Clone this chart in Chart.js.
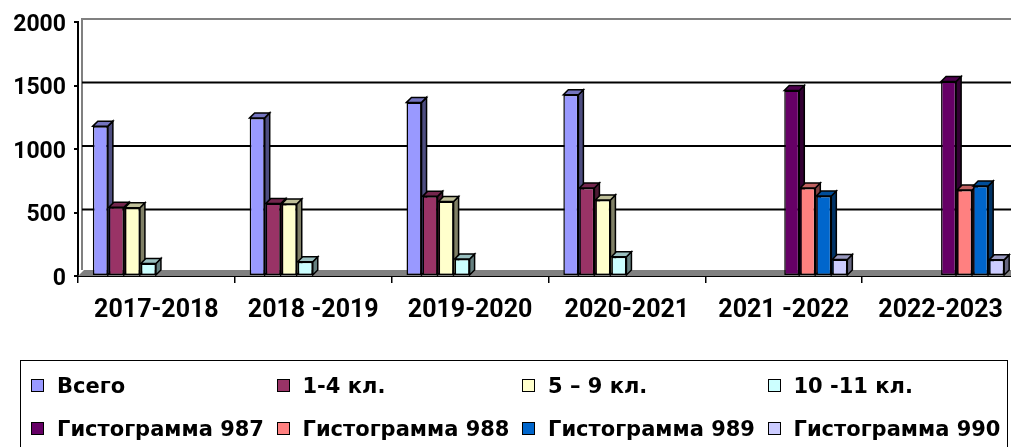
<!DOCTYPE html>
<html>
<head>
<meta charset="utf-8">
<script src="https://cdn.jsdelivr.net/npm/chart.js@4.4.1/dist/chart.umd.min.js"></script>
<style>
html,body{margin:0;padding:0;background:#fff;overflow:hidden;width:1011px;height:447px;}
#wrap{position:absolute;left:0;top:0;width:1030px;height:447px;}
#legend{position:absolute;left:20px;top:360px;width:988px;height:110px;border:1.5px solid #000;box-sizing:border-box;font-family:"DejaVu Sans",sans-serif;font-weight:bold;font-size:21px;color:#000;}
.item{position:absolute;height:24px;line-height:24px;white-space:nowrap;}
.box{position:absolute;left:0;top:5px;width:11px;height:11px;border:1.5px solid #000;}
.txt{position:absolute;left:26px;top:0;}
</style>
</head>
<body>
<div id="wrap"><canvas id="c" width="1030" height="447"></canvas></div>
<div id="legend"></div>
<script>
const categories = ['2017-2018', '2018 -2019', '2019-2020', '2020-2021', '2021 -2022', '2022-2023'];
const seriesNames = ['Всего', '1-4 кл.', '5 – 9 кл.', '10 -11 кл.', 'Гистограмма 987', 'Гистограмма 988', 'Гистограмма 989', 'Гистограмма 990'];
const vsego   = [1180, 1245, 1367, 1427, null, null];
const kl1_4   = [541, 570, 627, 693, null, null];
const kl5_9   = [537, 567, 586, 599, null, null];
const kl10_11 = [99, 112, 133, 151, null, null];
const g987    = [null, null, null, null, 1461, 1531];
const g988    = [null, null, null, null, 693, 677];
const g989    = [null, null, null, null, 630, 709];
const g990    = [null, null, null, null, 130, 127];
const yTicks  = [0, 500, 1000, 1500, 2000];

const seriesValues = [vsego, kl1_4, kl5_9, kl10_11, g987, g988, g989, g990];
const frontColors = ['#9999FF', '#993366', '#FFFFCC', '#CCFFFF', '#660066', '#FF8080', '#0066CC', '#CCCCFF'];

function shade(hex, f) {
  const n = parseInt(hex.slice(1), 16);
  const r = Math.round(((n >> 16) & 255) * f), g = Math.round(((n >> 8) & 255) * f), b = Math.round((n & 255) * f);
  return 'rgb(' + r + ',' + g + ',' + b + ')';
}

const datasets = seriesNames.map((name, i) => ({
  label: name,
  data: seriesValues[i],
  backgroundColor: frontColors[i],
  borderColor: '#000',
  borderWidth: 1.5,
  borderSkipped: false,
  categoryPercentage: 0.817,
  barPercentage: 0.94
}));

const D = 5; // depth of the 3D extrusion
const WALL = 3; // back wall offset

const plot3d = {
  id: 'plot3d',
  beforeDatasetsDraw(chart) {
    const ctx = chart.ctx;
    const a = chart.chartArea;
    const ys = chart.scales.y;
    ctx.save();
    // floor
    ctx.fillStyle = '#808080';
    ctx.beginPath();
    ctx.moveTo(a.left, a.bottom);
    ctx.lineTo(a.left + 6, a.bottom - 6);
    ctx.lineTo(a.right + 20, a.bottom - 6);
    ctx.lineTo(a.right + 20, a.bottom);
    ctx.closePath();
    ctx.fill();
    // back wall lines
    ctx.strokeStyle = '#808080';
    ctx.lineWidth = 2;
    const topY = ys.getPixelForValue(yTicks[yTicks.length - 1]) - WALL;
    ctx.beginPath();
    ctx.moveTo(a.left + WALL + 1, a.bottom - 6);
    ctx.lineTo(a.left + WALL + 1, topY);
    ctx.lineTo(a.right + 20, topY);
    ctx.stroke();
    // gridlines
    ctx.strokeStyle = '#000';
    ctx.lineWidth = 2;
    yTicks.slice(1, -1).forEach(v => {
      const yy = ys.getPixelForValue(v) - WALL;
      ctx.beginPath();
      ctx.moveTo(a.left + WALL + 1, yy);
      ctx.lineTo(a.right + 20, yy);
      ctx.stroke();
    });
    // 3D faces of bars
    ctx.lineWidth = 1.5;
    ctx.strokeStyle = '#000';
    ctx.lineJoin = 'miter';
    chart.data.datasets.forEach((ds, i) => {
      const meta = chart.getDatasetMeta(i);
      meta.data.forEach((el, j) => {
        if (ds.data[j] === null || ds.data[j] === undefined) return;
        const p = el.getProps(['x', 'y', 'base', 'width'], true);
        const l = p.x - p.width / 2, r = p.x + p.width / 2, t = p.y, b = p.base;
        ctx.fillStyle = shade(frontColors[i], 0.5);
        ctx.beginPath();
        ctx.moveTo(r, t); ctx.lineTo(r + D, t - D); ctx.lineTo(r + D, b - D); ctx.lineTo(r, b); ctx.closePath();
        ctx.fill(); ctx.stroke();
        ctx.fillStyle = shade(frontColors[i], 0.75);
        ctx.beginPath();
        ctx.moveTo(l, t); ctx.lineTo(l + D, t - D); ctx.lineTo(r + D, t - D); ctx.lineTo(r, t); ctx.closePath();
        ctx.fill(); ctx.stroke();
      });
    });
    ctx.restore();
  }
};

const chart = new Chart(document.getElementById('c'), {
  type: 'bar',
  data: { labels: categories, datasets },
  options: {
    responsive: false,
    animation: false,
    devicePixelRatio: 1,
    layout: { padding: { left: 0, right: 11, top: 22, bottom: 111 } },
    plugins: { legend: { display: false }, tooltip: { enabled: false } },
    scales: {
      x: {
        grid: { drawOnChartArea: false, drawTicks: true, tickLength: 7, color: '#000', lineWidth: 1.5, offset: true },
        border: { display: true, color: '#000', width: 2 },
        ticks: { color: '#000', font: { family: 'Roboto', weight: 'bold', size: 25 }, padding: 13, maxRotation: 0, autoSkip: false },
        afterFit(scale) { scale.height = 60; }
      },
      y: {
        min: 0, max: 2000,
        afterBuildTicks(scale) { scale.ticks = yTicks.map(v => ({ value: v })); },
        grid: { drawOnChartArea: false, drawTicks: true, tickLength: 4, color: '#000', lineWidth: 2 },
        border: { display: true, color: '#000', width: 2 },
        ticks: { color: '#000', font: { family: 'Roboto', weight: 'bold', size: 23 }, padding: 8, labelOffset: 3, callback: v => String(v) },
        afterFit(scale) { scale.width = 78; }
      }
    }
  },
  plugins: [plot3d]
});

// legend (HTML, built from the series names and colours)
const leg = document.getElementById('legend');
seriesNames.forEach((name, i) => {
  const col = i % 4, row = Math.floor(i / 4);
  const it = document.createElement('div');
  it.className = 'item';
  it.style.left = (10 + col * 245.5) + 'px';
  it.style.top = (13 + row * 43) + 'px';
  const bx = document.createElement('div');
  bx.className = 'box';
  bx.style.background = frontColors[i];
  const tx = document.createElement('span');
  tx.className = 'txt';
  tx.textContent = name;
  it.appendChild(bx); it.appendChild(tx);
  leg.appendChild(it);
});
</script>
</body>
</html>
